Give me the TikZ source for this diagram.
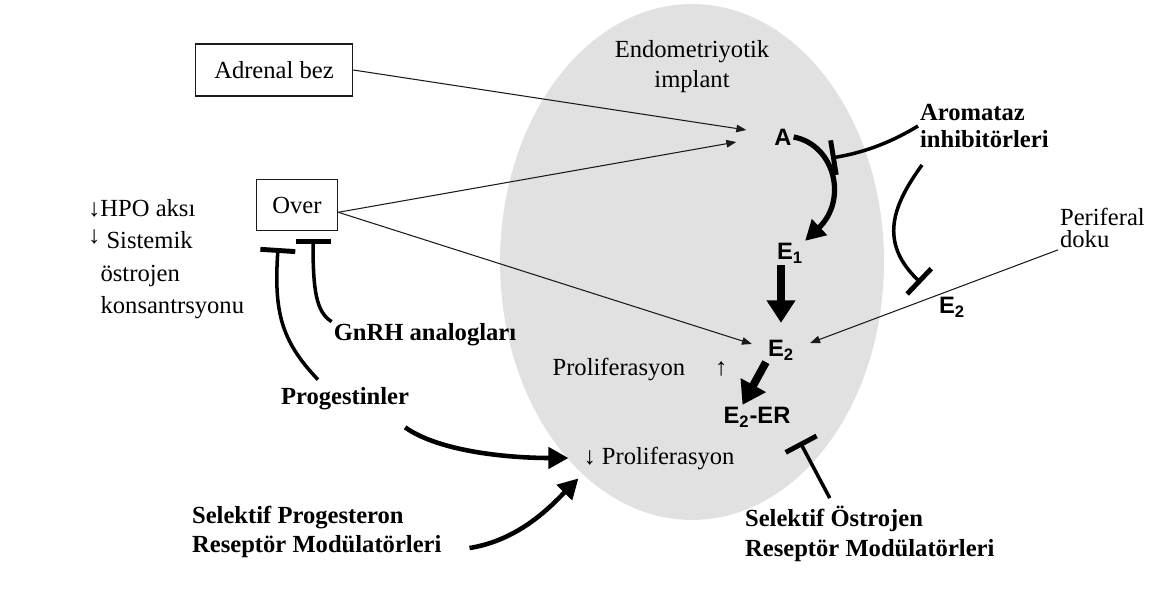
\documentclass[tikz,border=0pt]{standalone}
\usepackage{fontspec}
\setmainfont{Liberation Serif}
\newfontfamily\estfont{Liberation Sans}
\usetikzlibrary{arrows.meta,calc}
\definecolor{Implant}{HTML}{E1E1E1}
\definecolor{Ink}{HTML}{1A1A1A}

\begin{document}
\begin{tikzpicture}[x=0.02cm,y=-0.02cm,
    box/.style={draw=Ink,line width=0.9pt,font=\fontsize{14}{16}\selectfont,inner sep=0pt},
    txt/.style={font=\fontsize{14}{17}\selectfont,inner sep=1pt},
    bld/.style={font=\fontsize{14}{17}\selectfont\bfseries,inner sep=1pt},
    est/.style={font=\fontsize{13.5}{15}\selectfont\estfont\bfseries,inner sep=1pt},
    lnk/.style={line width=0.6pt,draw=Ink,-{Triangle[length=0.2cm,width=0.15cm]}},
    fat/.style={line width=5pt,-{Triangle[length=0.45cm,width=0.55cm]}},
    curv/.style={line width=2.6pt,-{Triangle[length=0.4cm,width=0.42cm]}},
    inh/.style={line width=2pt,-{Bar[width=0.7cm,line width=2.8pt]}}
  ]
    \useasboundingbox (0,0) rectangle (1149,595);
    % implant
    \fill[Implant] (692,262) ellipse [x radius=3.84cm,y radius=5.16cm];
    \node[txt,align=center] (implant) at (692,67) {Endometriyotik\\implant};

    % sources
    \node[box,minimum width=3.14cm,minimum height=1.04cm] (adrenal) at (274,70) {Adrenal bez};
    \node[box,minimum width=1.62cm,minimum height=1.02cm] (over) at (297,205) {Over};
    \node[txt,align=left,anchor=west,font=\fontsize{14}{12.5}\selectfont] (perif) at (1058,228) {Periferal\\doku};
    \node[txt,align=left,anchor=west,font=\fontsize{14}{18.5}\selectfont] (hpo) at (86,259)
      {↓HPO aksı\\\raisebox{3pt}{↓} Sistemik\\\hspace*{0.25cm}östrojen\\\hspace*{0.25cm}konsantrsyonu};

    % steroids
    \node[est] (a) at (783,137) {A};
    \node[est] (e1) at (790,253) {E\textsubscript{1}};
    \node[est] (e2) at (781,350) {E\textsubscript{2}};
    \node[est] (e2er) at (757,417) {E\textsubscript{2}-ER};
    \node[est] (e2p) at (952,307) {E\textsubscript{2}};

    \node[txt] (prolup) at (640,369) {Proliferasyon\hspace{0.6cm}↑};
    \node[txt] (proldn) at (659,458) {↓ Proliferasyon};

    % drugs
    \node[bld,align=left,anchor=west,font=\fontsize{14}{15.5}\selectfont\bfseries] (arom) at (918,126) {Aromataz\\inhibitörleri};
    \node[bld] (gnrh) at (425,335) {GnRH analogları};
    \node[bld] (prog) at (345,399) {Progestinler};
    \node[bld,align=left,anchor=west] (sprm) at (190,532) {Selektif Progesteron\\Reseptör Modülatörleri};
    \node[bld,align=left,anchor=west] (serm) at (743,534) {Selektif Östrojen\\Reseptör Modülatörleri};

    \coordinate (aibar) at (831,158);
    \coordinate (e2bar) at (921,283);
    \coordinate (sermbar) at (800,442);
    \coordinate (progbar) at (278,248);
    \coordinate (gnrhbar) at (313,239);

    % thin arrows
    \draw[lnk] (adrenal.east) -- ($(a.west)+(-26,-7)$);
    \draw[lnk] (over.-10) -- ($(a.west)+(-36,5)$);
    \draw[lnk] (over.-10) -- ($(e2.west)+(-14,-6)$);
    \draw[lnk] (perif.south west) -- ($(e2.east)+(14,-7)$);

    % synthesis
    \draw[curv,line width=3pt] (a.east) .. controls (835,145) and (848,200) .. (e1.north east);
    \draw[fat,shorten >=0.3cm] (e1.south -| e2.north) -- (e2.north);
    \draw[fat,line width=4.5pt] (e2.south west) -- (e2er.140);

    % inhibitions
    \draw[inh] (arom.west) .. controls (895,140) and (868,152) .. (aibar);
    \draw[inh] ($(arom.south west)+(4,15)$) .. controls (893,205) and (878,242) .. (e2bar);
    \draw[inh] ($(serm.north)+(-40,-6)$) -- (sermbar);
    \draw[inh] ($(prog.north)+(-27,-6)$) .. controls (280,340) and (274,310) .. (progbar);
    \draw[inh] (gnrh.north west) .. controls (316,312) and (313,290) .. (gnrhbar);

    % to proliferation
    \draw[curv] ($(prog.south east)+(-6,15)$) .. controls (440,452) and (510,458) .. ($(proldn.west)+(-13,0)$);
    \draw[curv] ($(sprm.east)+(26,16)$) .. controls (520,540) and (552,505) .. ($(proldn.south west)+(-3,7)$);
  \end{tikzpicture}
\end{document}
